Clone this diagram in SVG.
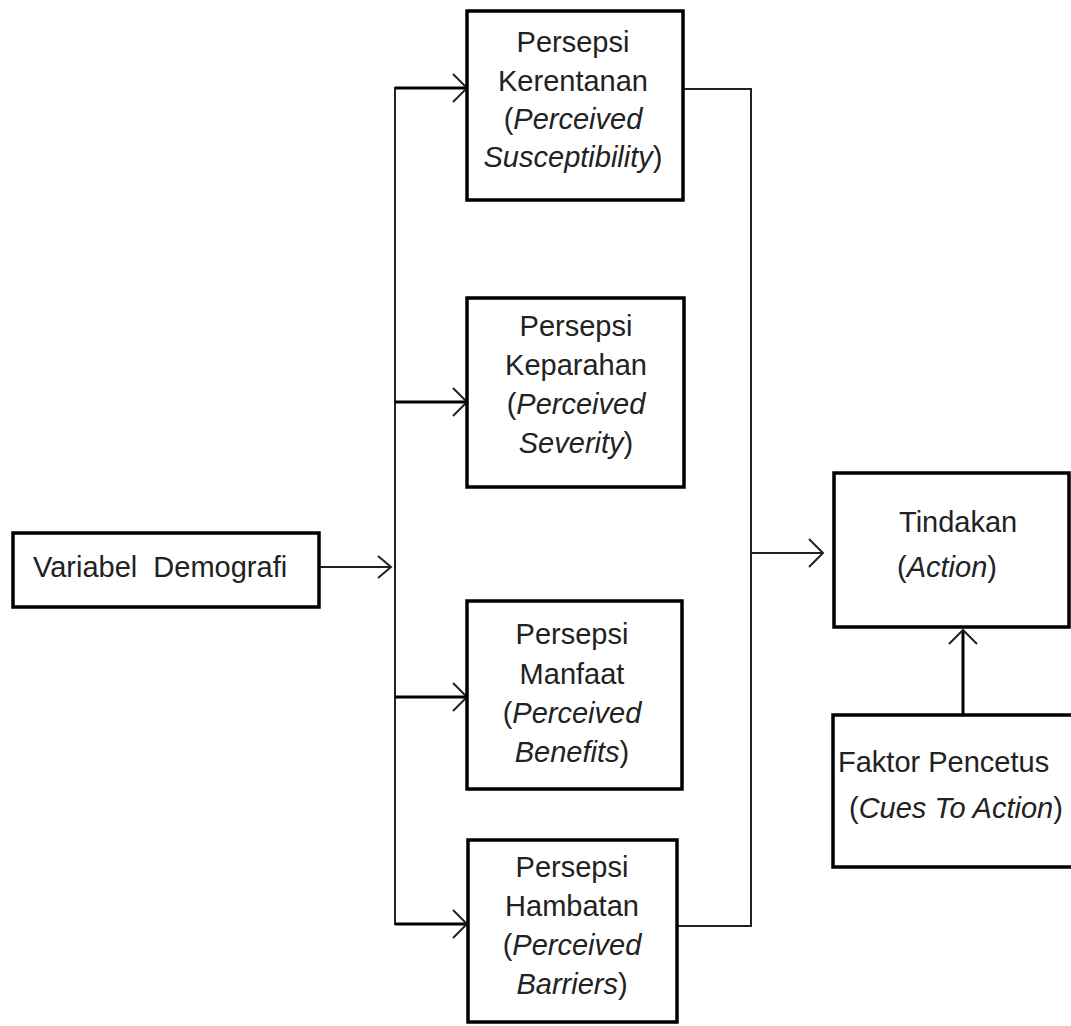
<svg xmlns="http://www.w3.org/2000/svg" width="1071" height="1026" viewBox="0 0 1071 1026">
<style>
.box{fill:#fff;stroke:#000;stroke-width:3.5}
.t{font-family:"Liberation Sans",Arial,sans-serif;font-size:29px;fill:#222}
.c{text-anchor:middle}
.i{font-style:italic}
.ln{fill:none;stroke:#222;stroke-width:2}
.thk{fill:none;stroke:#000;stroke-width:3}
.hd{fill:none;stroke:#222;stroke-width:2}
</style>
<rect width="1071" height="1026" fill="#fff"/>
<g id="connectors">
  <line class="ln" x1="395" y1="87" x2="395" y2="925"/>
  <line class="thk" x1="395" y1="88" x2="466" y2="88"/>
  <polyline class="hd" points="453,74 467,88 453,102"/>
  <line class="thk" x1="395" y1="402" x2="466" y2="402"/>
  <polyline class="hd" points="453,388 467,402 453,416"/>
  <line class="thk" x1="395" y1="697" x2="466" y2="697"/>
  <polyline class="hd" points="453,683 467,697 453,711"/>
  <line class="thk" x1="395" y1="924" x2="466" y2="924"/>
  <polyline class="hd" points="453,910 467,924 453,938"/>
  <line class="ln" x1="319" y1="567" x2="391" y2="567" stroke="#666"/>
  <polyline class="hd" points="378,556 391,567 378,578"/>
  <line class="ln" x1="683" y1="89" x2="751" y2="89"/>
  <line class="ln" x1="751" y1="88" x2="751" y2="927"/>
  <line class="ln" x1="677" y1="926" x2="752" y2="926"/>
  <line class="ln" x1="751" y1="553" x2="822" y2="553"/>
  <polyline class="hd" points="809,539 823,553 809,567"/>
  <line class="thk" x1="963" y1="715" x2="963" y2="630"/>
  <polyline class="hd" points="949,644 963,630 977,644"/>
</g>
<g id="node-demografi">
  <rect class="box" x="13" y="533" width="306" height="74"/>
  <text class="t" x="33" y="577" xml:space="preserve">Variabel  Demografi</text>
</g>
<g id="node-kerentanan">
  <rect class="box" x="467" y="11" width="216" height="189"/>
  <text class="t c" x="573" y="52">Persepsi</text>
  <text class="t c" x="573" y="91">Kerentanan</text>
  <text class="t c" x="573" y="129">(<tspan class="i">Perceived</tspan></text>
  <text class="t c" x="573" y="167"><tspan class="i">Susceptibility</tspan>)</text>
</g>
<g id="node-keparahan">
  <rect class="box" x="467" y="298" width="217" height="189"/>
  <text class="t c" x="576" y="336">Persepsi</text>
  <text class="t c" x="576" y="375">Keparahan</text>
  <text class="t c" x="576" y="414">(<tspan class="i">Perceived</tspan></text>
  <text class="t c" x="576" y="453"><tspan class="i">Severity</tspan>)</text>
</g>
<g id="node-manfaat">
  <rect class="box" x="467" y="601" width="215" height="188"/>
  <text class="t c" x="572" y="644">Persepsi</text>
  <text class="t c" x="572" y="684">Manfaat</text>
  <text class="t c" x="572" y="723">(<tspan class="i">Perceived</tspan></text>
  <text class="t c" x="572" y="762"><tspan class="i">Benefits</tspan>)</text>
</g>
<g id="node-hambatan">
  <rect class="box" x="468" y="840" width="209" height="182"/>
  <text class="t c" x="572" y="877">Persepsi</text>
  <text class="t c" x="572" y="916">Hambatan</text>
  <text class="t c" x="572" y="955">(<tspan class="i">Perceived</tspan></text>
  <text class="t c" x="572" y="994"><tspan class="i">Barriers</tspan>)</text>
</g>
<g id="node-tindakan">
  <rect class="box" x="834" y="473" width="235" height="154"/>
  <text class="t" x="899" y="532">Tindakan</text>
  <text class="t" x="897" y="577">(<tspan class="i">Action</tspan>)</text>
</g>
<g id="node-faktor">
  <rect class="box" x="833" y="715" width="245" height="152"/>
  <text class="t" x="838" y="772">Faktor Pencetus</text>
  <text class="t" x="849" y="818">(<tspan class="i">Cues To Action</tspan>)</text>
</g>
</svg>
